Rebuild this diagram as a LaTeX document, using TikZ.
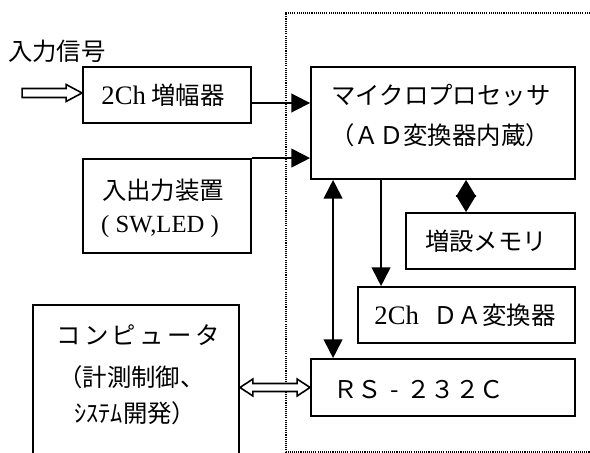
\documentclass[tikz,border=0pt]{standalone}
\usepackage{fontspec}
\setmainfont{Noto Sans CJK JP}
\newfontfamily\jpwide[LetterSpace=14]{Noto Sans CJK JP}
\newfontfamily\serifen{Liberation Serif}
\usetikzlibrary{arrows.meta,calc,fit}
\begin{document}
\begin{tikzpicture}[x=0.75pt,y=-0.75pt,
  box/.style={draw,line width=1.4pt,inner sep=0pt,fill=white},
  txt/.style={inner sep=0pt,font=\fontsize{18.3pt}{22pt}\selectfont},
  arr/.style={line width=1.4pt,-{Triangle[length=14pt,width=14pt]}},
  biarr/.style={line width=1.4pt,{Triangle[length=14pt,width=14pt]}-{Triangle[length=14pt,width=14pt]}},
  diaarr/.style={line width=1.4pt,{Triangle[length=12.7pt,width=15pt]}-{Triangle[length=12.7pt,width=15pt]}},
  hollow/.style={draw,line width=1.2pt,fill=white,line join=miter},
  frame/.style={line width=0.8pt,dash pattern=on 0.8pt off 0.8pt}]
\useasboundingbox[fill=white] (0,0) rectangle (590,453);
% dotted frame
\draw[frame] (592,13) -- (286,13) -- (286,452) -- (592,452);
% boxes
\node[box,fit={(83,67) (251,123)}] (amp) {};
\node[box,fit={(311,67) (575,179)}] (mpu) {};
\node[box,fit={(83,159) (251,253)}] (io) {};
\node[box,fit={(406,213) (575,269)}] (mem) {};
\node[box,fit={(358,287) (575,343)}] (da) {};
\node[box,fit={(311,359) (575,416)}] (rs) {};
\node[box,fit={(33,305) (239,470)}] (pc) {};
% texts
\node[txt] (sig) at (57,51) {入力信号};
\node[txt] (ampT) at (163,95) {{\serifen\fontsize{20pt}{22pt}\selectfont 2Ch} 増幅器};
\node[txt] (mpuT1) at (441,95) {マイクロプロセッサ};
\node[txt] (mpuT2) at (440,135) {（ＡＤ変換器内蔵）};
\node[txt] (ioT1) at (163,190) {入出力装置};
\node[txt] (ioT2) at (160,227) {\serifen\fontsize{18.5pt}{22pt}\selectfont ( SW,LED )};
\node[txt] (memT) at (486,241) {増設メモリ};
\node[txt] (daT) at (465,315) {{\serifen\fontsize{20pt}{22pt}\selectfont 2Ch}\hspace{0.6em}ＤＡ変換器};
\node[txt,anchor=west] (rsT) at (333,390) {ＲＳ\makebox[1em]{-}２３２Ｃ};
\node[txt] (pcT1) at (138,335) {\jpwide コンピュータ};
\node[txt,anchor=west] (pcT2) at (58,377) {（計測制御、};
\node[txt,anchor=west] (pcT3) at (74,413) {ｼｽﾃﾑ開発）};
% connectors
\coordinate (a1) at ($(amp.east)+(0,8)$);
\draw[arr] (a1) -- (a1 -| mpu.west);
\draw[arr] (io.north east) -- (io.north east -| mpu.west);
\coordinate (m1) at ($(mem.north west)+(61,0)$);
\draw[diaarr] (m1 |- mpu.south) -- (m1);
\coordinate (d1) at ($(da.north west)+(24,0)$);
\draw[arr] (d1 |- mpu.south) -- (d1);
\coordinate (r1) at ($(rs.north west)+(23,0)$);
\draw[biarr] (r1) -- (r1 |- mpu.south);
% hollow arrows
\coordinate (sigA) at ($(amp.west)+(0,-2)$);
\draw[hollow] ($(sigA)+(-60,-4.5)$) -- ($(sigA)+(-16,-4.5)$) -- ($(sigA)+(-16,-8.5)$) -- (sigA) -- ($(sigA)+(-16,8.5)$) -- ($(sigA)+(-16,4.5)$) -- ($(sigA)+(-60,4.5)$) -- cycle;
\draw[hollow] (pc.east) -- ($(pc.east)+(13,-8.5)$) -- ($(pc.east)+(13,-4)$) -- ($(rs.west)+(-13,-4)$) -- ($(rs.west)+(-13,-8.5)$) -- (rs.west) -- ($(rs.west)+(-13,8.5)$) -- ($(rs.west)+(-13,4)$) -- ($(pc.east)+(13,4)$) -- ($(pc.east)+(13,8.5)$) -- cycle;
\end{tikzpicture}
\end{document}
